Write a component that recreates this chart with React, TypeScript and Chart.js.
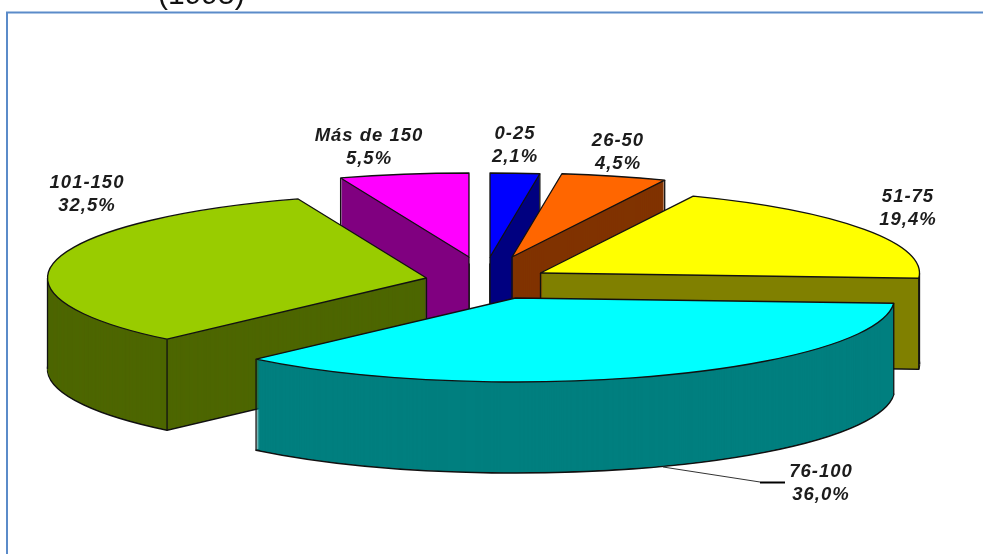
import React, { useEffect, useRef } from "react";
import { Chart, registerables } from "chart.js";

Chart.register(...registerables);

// Share of cases per range, in percent
const categories = ["0-25", "26-50", "51-75", "76-100", "101-150", "Más de 150"];
const shares = [2.1, 4.5, 19.4, 36.0, 32.5, 5.5];

// Top face and side wall colours per slice
const topColors = ["#0000ff", "#ff6600", "#ffff00", "#00ffff", "#99cc00", "#ff00ff"];
const wallColors = ["#000080", "#803300", "#808000", "#007f7f", "#4d6600", "#800080"];

// Exploded layout: how far each slice sits from the pie centre, in canvas pixels
const sliceShiftX = [-1.5, 20.5, 49, 24, -65, -22.5];
const sliceShiftY = [-20, -20, -4, 21, 1, -20];

// Slices are painted back to front so nearer walls hide farther ones
const paintOrder = [5, 0, 1, 2, 4, 3];

// Centre of each two-line label
const labelX = [515, 618, 908, 821, 87, 369];
const labelY = [134, 141, 197, 472, 183, 136];
const labelLineGap = 23;

const PIE_RADIUS = 379;
const TILT = 84 / PIE_RADIUS;
const WALL_DEPTH = 91;

const titleText = "(1995)";

function tracePie(ctx: CanvasRenderingContext2D, px: number, py: number, el: any) {
  ctx.save();
  ctx.translate(px, py);
  ctx.scale(1, TILT);
  ctx.beginPath();
  ctx.moveTo(0, 0);
  ctx.arc(0, 0, el.outerRadius, el.startAngle, el.endAngle);
  ctx.closePath();
  ctx.restore();
}

// True when a point just below (x, y), in untilted pie space, lies on the slice's top face
function coveredByTop(x: number, y: number, el: any): boolean {
  const below = y + 0.5;
  if (Math.hypot(x, below) > el.outerRadius) return false;
  let angle = Math.atan2(below, x);
  while (angle < el.startAngle) angle += Math.PI * 2;
  return angle <= el.endAngle;
}

// Rim angles whose vertical edge is visible below the top face
function visibleRimAngles(el: any): number[] {
  const angles = [el.startAngle, el.endAngle];
  for (const a of [0, Math.PI]) {
    if (a > el.startAngle && a < el.endAngle) angles.push(a);
  }
  return angles.filter(
    (a) => !coveredByTop(Math.cos(a) * el.outerRadius, Math.sin(a) * el.outerRadius, el)
  );
}

const tiltedPie = {
  id: "tiltedPie",
  beforeDraw(chart: any) {
    const ctx: CanvasRenderingContext2D = chart.ctx;
    ctx.save();
    ctx.fillStyle = "#ffffff";
    ctx.fillRect(0, 0, chart.width, chart.height);
    // Panel frame: top and left rules only
    ctx.strokeStyle = "#5b8bc9";
    ctx.lineWidth = 2;
    ctx.beginPath();
    ctx.moveTo(7, 554);
    ctx.lineTo(7, 12.5);
    ctx.lineTo(983, 12.5);
    ctx.stroke();
    ctx.fillStyle = "#111111";
    ctx.font = '30px "Liberation Sans"';
    ctx.textBaseline = "alphabetic";
    ctx.fillText(titleText, 158, 4);
    ctx.restore();
  },
  beforeDatasetDraw(chart: any, args: any) {
    const ctx: CanvasRenderingContext2D = chart.ctx;
    const arcs = args.meta.data;
    ctx.save();
    ctx.strokeStyle = "#111111";
    ctx.lineJoin = "round";

    for (const i of paintOrder) {
      const el = arcs[i];
      const px = el.x + sliceShiftX[i];
      const py = el.y + sliceShiftY[i];

      // Base outline, then the extruded wall stacked upward over it
      tracePie(ctx, px, py + WALL_DEPTH, el);
      ctx.fillStyle = wallColors[i];
      ctx.fill();
      ctx.lineWidth = 1.6;
      ctx.stroke();
      for (let d = WALL_DEPTH - 1; d > 0; d--) {
        tracePie(ctx, px, py + d, el);
        ctx.fill();
      }

      // Vertical edges at whichever corners and rim extremes show
      ctx.lineWidth = 1.3;
      ctx.beginPath();
      if (!coveredByTop(0, 0, el)) {
        ctx.moveTo(px, py);
        ctx.lineTo(px, py + WALL_DEPTH);
      }
      for (const a of visibleRimAngles(el)) {
        const ex = px + Math.cos(a) * el.outerRadius;
        const ey = py + Math.sin(a) * el.outerRadius * TILT;
        ctx.moveTo(ex, ey);
        ctx.lineTo(ex, ey + WALL_DEPTH);
      }
      ctx.stroke();

      // Top face through the arc element itself, squashed by the tilt
      ctx.save();
      ctx.translate(px, py);
      ctx.scale(1, TILT);
      ctx.translate(-el.x, -el.y);
      el.draw(ctx);
      ctx.restore();

      tracePie(ctx, px, py, el);
      ctx.lineWidth = 1.3;
      ctx.stroke();
    }
    ctx.restore();
    return false;
  },
  afterDatasetsDraw(chart: any) {
    const ctx: CanvasRenderingContext2D = chart.ctx;
    ctx.save();

    // Leader line for the 76-100 label
    ctx.strokeStyle = "#333333";
    ctx.lineWidth = 1;
    ctx.beginPath();
    ctx.moveTo(663, 467);
    ctx.lineTo(760, 482);
    ctx.stroke();
    ctx.strokeStyle = "#000000";
    ctx.lineWidth = 2;
    ctx.beginPath();
    ctx.moveTo(760, 482.5);
    ctx.lineTo(785, 482.5);
    ctx.stroke();

    ctx.fillStyle = "#1c1c1c";
    ctx.font = 'italic bold 18.5px "Liberation Sans"';
    (ctx as any).letterSpacing = "1px";
    ctx.textAlign = "center";
    ctx.textBaseline = "middle";
    chart.data.labels.forEach((label: string, i: number) => {
      const pct = chart.data.datasets[0].data[i].toFixed(1).replace(".", ",") + "%";
      ctx.fillText(label, labelX[i], labelY[i]);
      ctx.fillText(pct, labelX[i], labelY[i] + labelLineGap);
    });
    ctx.restore();
  },
};

export default function App() {
  const canvasRef = useRef<HTMLCanvasElement>(null);

  useEffect(() => {
    document.body.style.margin = "0";
    const chart = new Chart(canvasRef.current!, {
      type: "pie",
      data: {
        labels: categories,
        datasets: [
          {
            data: shares,
            backgroundColor: topColors,
            borderWidth: 0,
          },
        ],
      },
      options: {
        animation: false,
        responsive: false,
        radius: PIE_RADIUS,
        layout: { padding: 0 },
        plugins: {
          legend: { display: false },
          tooltip: { enabled: false },
        },
      } as any,
      plugins: [tiltedPie as any],
    });
    return () => chart.destroy();
  }, []);

  return <canvas ref={canvasRef} width={983} height={554} style={{ display: "block" }} />;
}
